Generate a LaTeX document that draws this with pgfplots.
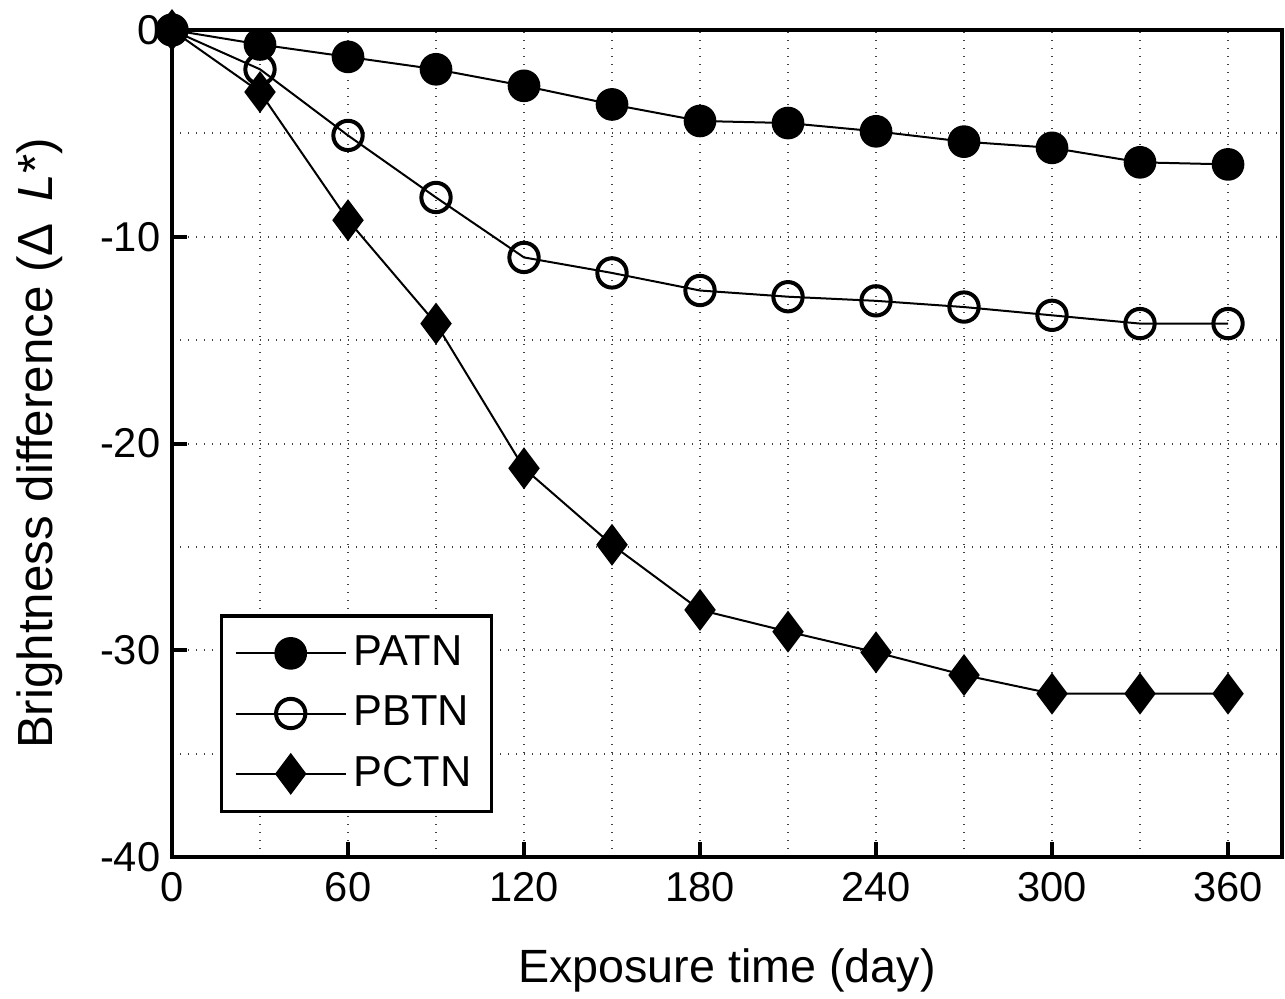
\documentclass[border=0pt]{standalone}
\usepackage{fontspec}
\setmainfont{Liberation Sans}
\usepackage{pgfplots}
\pgfplotsset{compat=1.18}
\begin{document}
\begin{tikzpicture}
\begin{axis}[
  name=ax,
  scale only axis,
  width=333pt, height=248.1pt,
  xmin=0, xmax=378.4, ymin=-40, ymax=0,
  xtick={0,60,120,180,240,300,360},
  xticklabels={0,60,120,180,240,300,360},
  ytick={-40,-30,-20,-10,0},
  yticklabels={-40,-30,-20,-10,0},
  minor x tick num=1, minor y tick num=1,
  grid=both,
  major grid style={black!75, dotted, line width=0.6pt},
  minor grid style={black!75, dotted, line width=0.6pt},
  tick align=inside,
  xtick pos=bottom, ytick pos=left,
  major tick length=4.5pt, minor tick length=0pt,
  major tick style={line width=1.2pt, black},
  axis line style={line width=1.3pt},
  tick label style={font=\fontsize{12.5}{15}\selectfont},
  xticklabel style={yshift=-1pt},
  xlabel={Exposure time (day)},
  ylabel={Brightness difference (Δ\hspace{0.45em}\textit{L}*)},
  every axis x label/.style={at={(axis description cs:0.5,-0.1366)}, anchor=center, font=\fontsize{14}{17}\selectfont},
  every axis y label/.style={at={(axis description cs:-0.119,0.5)}, rotate=90, anchor=center, font=\fontsize{14.8}{17}\selectfont},
  clip=false,
  legend cell align=left,
  legend style={at={(axis description cs:0.043,0.053)}, anchor=south west,
    draw=black, line width=1pt, fill=white,
    font=\fontsize{13}{15}\selectfont, row sep=3.6pt,
    inner xsep=4pt, inner ysep=4pt},
  legend image code/.code={\draw[mark repeat=2,mark phase=2,line width=0.6pt] plot coordinates {(0cm,0cm) (0.58cm,0cm) (1.16cm,0cm)};},
]
\addplot[black, line width=0.6pt, mark=*, mark size=4.6pt, mark options={fill=black}] coordinates {
(0,0) (30,-0.7) (60,-1.3) (90,-1.9) (120,-2.7) (150,-3.6) (180,-4.4) (210,-4.5) (240,-4.9) (270,-5.4) (300,-5.7) (330,-6.4) (360,-6.5)};
\addlegendentry{PATN}
\addplot[black, line width=0.6pt, mark=o, mark size=4.4pt, mark options={fill=white, line width=1.2pt}] coordinates {
(0,0) (30,-1.9) (60,-5.1) (90,-8.1) (120,-11.0) (150,-11.75) (180,-12.6) (210,-12.9) (240,-13.1) (270,-13.4) (300,-13.8) (330,-14.2) (360,-14.2)};
\addlegendentry{PBTN}
\addplot[black, line width=0.6pt, mark=diamond*, mark size=5.8pt, mark options={fill=black}] coordinates {
(0,0) (30,-3.0) (60,-9.2) (90,-14.2) (120,-21.2) (150,-24.9) (180,-28.05) (210,-29.1) (240,-30.1) (270,-31.2) (300,-32.1) (330,-32.1) (360,-32.1)};
\addlegendentry{PCTN}
\end{axis}
\pgfresetboundingbox
\path[use as bounding box] ([xshift=-51.6pt,yshift=-42.6pt]ax.south west) rectangle ++(385.5pt,299.7pt);
\end{tikzpicture}
\end{document}
